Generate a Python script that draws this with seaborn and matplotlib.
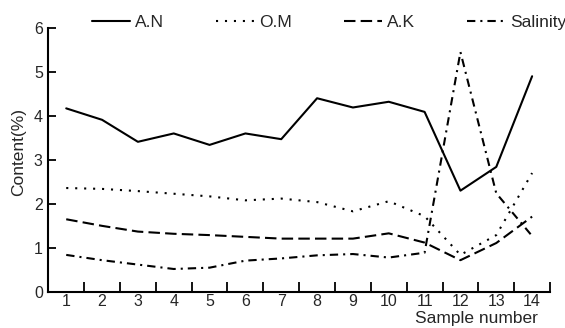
import pandas as pd
import matplotlib
matplotlib.use("Agg")
import matplotlib.pyplot as plt
import seaborn as sns

# Values
samples = list(range(1, 15))
an = [4.18, 3.92, 3.42, 3.61, 3.35, 3.61, 3.48, 4.41, 4.20, 4.33, 4.10, 2.31, 2.85, 4.91]
om = [2.37, 2.35, 2.30, 2.24, 2.18, 2.09, 2.13, 2.05, 1.84, 2.07, 1.73, 0.85, 1.30, 2.71]
ak = [1.66, 1.51, 1.38, 1.33, 1.30, 1.26, 1.22, 1.22, 1.22, 1.34, 1.13, 0.73, 1.12, 1.72]
salinity = [0.85, 0.73, 0.63, 0.53, 0.56, 0.72, 0.77, 0.84, 0.87, 0.79, 0.90, 5.46, 2.25, 1.28]
series_names = ["A.N", "O.M", "A.K", "Salinity"]
y_ticks = [0, 1, 2, 3, 4, 5, 6]

df = pd.DataFrame({"Sample": samples, "A.N": an, "O.M": om, "A.K": ak, "Salinity": salinity})
df_long = df.melt(id_vars="Sample", var_name="Series", value_name="Content")

sns.set_style("white")
plt.rcParams["font.family"] = ["Liberation Sans", "DejaVu Sans"]

fig = plt.figure(figsize=(5.65, 3.28), dpi=100)
ax = fig.add_axes([0.0855, 0.1088, 0.888, 0.805])

dash_styles = {
    "A.N": "",
    "O.M": (1, 3.3),
    "A.K": (5.5, 2.5),
    "Salinity": (4, 2.4, 1, 2.4),
}
sns.lineplot(
    data=df_long, x="Sample", y="Content",
    hue="Series", style="Series",
    hue_order=series_names, style_order=series_names,
    palette={s: "black" for s in series_names},
    dashes=dash_styles, linewidth=1.5, ax=ax,
)

# category-style x axis: ticks between samples, labels at centres
ax.set_xlim(0.5, 14.5)
ax.set_xticks([s + 0.5 for s in samples])
ax.set_xticklabels([])
ax.set_xticks(samples, minor=True)
ax.set_xticklabels([str(s) for s in samples], minor=True, fontsize=11.5)
ax.tick_params(axis="x", which="major", direction="in", length=7.5, width=1.3, color="black")
ax.tick_params(axis="x", which="minor", length=0, pad=1.5)

ax.set_ylim(0, 6)
ax.set_yticks(y_ticks)
ax.tick_params(axis="y", direction="in", length=6, width=1.3, pad=4, labelsize=11.5, color="black")
ax.tick_params(left=True, bottom=True)

for side in ["top", "right"]:
    ax.spines[side].set_visible(False)
for side in ["left", "bottom"]:
    ax.spines[side].set_linewidth(1.5)
    ax.spines[side].set_color("black")

ax.set_ylabel("Content(%)", fontsize=12.5)
ax.yaxis.set_label_coords(-0.045, 0.53)
ax.set_xlabel("Sample number", fontsize=12.5)
ax.xaxis.set_label_coords(0.854, -0.072)

handles, labels = ax.get_legend_handles_labels()
ax.legend(
    handles, labels, loc="center left", bbox_to_anchor=(0.087, 1.021),
    ncol=4, frameon=False, fontsize=12.5, borderpad=0, borderaxespad=0,
    handlelength=2.2, handletextpad=0.28, columnspacing=3.0,
)

fig.savefig("out.png", dpi=100)
plt.close(fig)
